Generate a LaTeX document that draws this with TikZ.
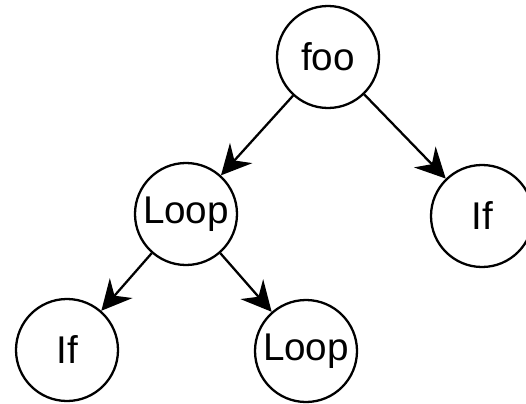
\documentclass[tikz,border=0pt]{standalone}
\usepackage{fontspec}
\setmainfont{Liberation Sans}
\usetikzlibrary{arrows.meta}
\tikzset{N/.style={circle, draw, line width=1.3pt, minimum size=20.4mm, inner sep=0pt, font=\fontsize{22}{26}\selectfont}}
\tikzset{E/.style={-{Stealth[length=6mm, width=6mm, inset=2mm]}, line width=1.3pt}}
\begin{document}
\begin{tikzpicture}
            \useasboundingbox (0,0) rectangle (10.52,-8.06);
            \node[N] (foo) at (6.56,-1.14) {foo};
            \node[N] (loopA) at (3.72,-4.28) {Loop};
            \node[N] (ifA) at (9.64,-4.32) {If};
            \node[N] (ifB) at (1.34,-7.00) {If};
            \node[N] (loopB) at (6.12,-7.02) {Loop};
            \draw[E] (foo) -- (loopA);
            \draw[E] (foo) -- (ifA);
            \draw[E] (loopA) -- (ifB);
            \draw[E] (loopA) -- (loopB);
        \end{tikzpicture}
\end{document}
